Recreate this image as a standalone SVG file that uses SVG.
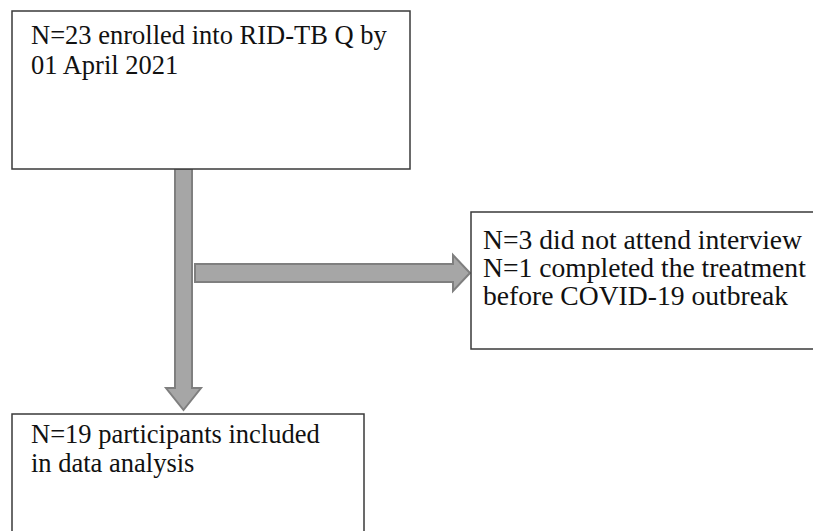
<svg xmlns="http://www.w3.org/2000/svg" width="813" height="531" viewBox="0 0 813 531">
<style>
.box{fill:#ffffff;stroke:#3a3a3a;stroke-width:1.5}
.t{font-family:"Liberation Serif","Times New Roman",serif;font-size:26.5px;fill:#111111}
.t2{font-size:27.6px}
.arr{fill:#a6a6a6;stroke:#7f7f7f;stroke-width:2;stroke-linejoin:miter}
</style>
<rect width="813" height="531" fill="#ffffff"/>
<g id="connectors">
<path class="arr" d="M175,169 L192,169 L192,388 L201,388 L183.5,410 L166,388 L175,388 Z"/>
<path class="arr" d="M195,264 L453,264 L453,255 L470,273 L453,291 L453,282 L195,282 Z"/>
</g>
<g id="node-enrolled">
<rect class="box" x="12" y="11" width="398" height="158"/>
<text class="t" x="31" y="44">N=23 enrolled into RID-TB Q by</text>
<text class="t" x="31" y="74">01 April 2021</text>
</g>
<g id="node-excluded">
<rect class="box" x="471" y="212" width="360" height="137"/>
<text class="t t2" x="483" y="249">N=3 did not attend interview</text>
<text class="t t2" x="483" y="277">N=1 completed the treatment</text>
<text class="t t2" x="483" y="305">before COVID-19 outbreak</text>
</g>
<g id="node-included">
<rect class="box" x="12" y="414" width="352" height="140"/>
<text class="t" x="31" y="443">N=19 participants included</text>
<text class="t" x="31" y="472">in data analysis</text>
</g>
</svg>
